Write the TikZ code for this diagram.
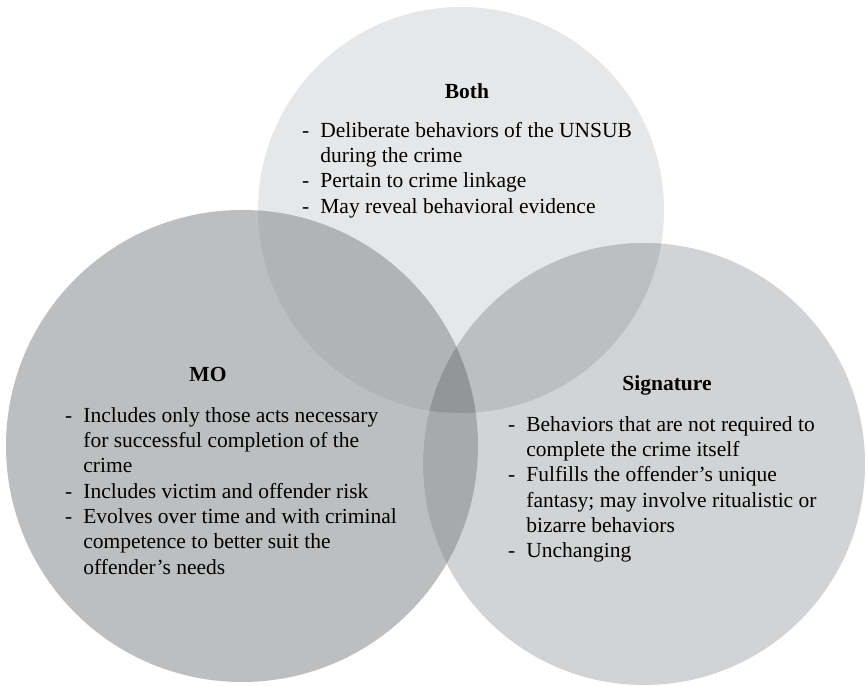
\documentclass[tikz,border=0pt]{standalone}
\usepackage{fontspec}
\setmainfont{Liberation Serif}
\usepackage{tikz}

\definecolor{bothgray}{HTML}{E6E7E8}
\definecolor{mogray}{HTML}{BCBEC0}
\definecolor{siggray}{HTML}{D1D3D4}
\definecolor{bothmo}{HTML}{B1B3B6}
\definecolor{bothsig}{HTML}{BCBEC0}
\definecolor{mosig}{HTML}{A7A9AC}
\definecolor{allthree}{HTML}{939598}

\begin{document}
\begin{tikzpicture}[x=1pt,y=1pt,font=\fontsize{21.5}{25.3}\selectfont]
    \tikzstyle{title node}=[anchor=base,inner sep=0,font=\fontsize{21.5}{25.3}\selectfont\bfseries]
    \tikzstyle{list node}=[anchor=north west,inner sep=0,align=left]

    \useasboundingbox (0,0) rectangle (866,685);

    \coordinate (both) at (461,475);
    \coordinate (mo) at (242,239);
    \coordinate (sig) at (644,221);

    % the three circles
    \fill[bothgray] (both) circle[radius=203pt];
    \fill[mogray] (mo) circle[radius=236pt];
    \fill[siggray] (sig) circle[radius=221pt];

    % overlaps
    \begin{scope}
        \clip (mo) circle[radius=236pt];
        \fill[bothmo] (both) circle[radius=203pt];
    \end{scope}
    \begin{scope}
        \clip (sig) circle[radius=221pt];
        \fill[bothsig] (both) circle[radius=203pt];
    \end{scope}
    \begin{scope}
        \clip (sig) circle[radius=221pt];
        \fill[mosig] (mo) circle[radius=236pt];
    \end{scope}
    \begin{scope}
        \clip (sig) circle[radius=221pt];
        \clip (mo) circle[radius=236pt];
        \fill[allthree] (both) circle[radius=203pt];
    \end{scope}

    % Both
    \node(bothtitle)[title node] at (467,586) {Both};
    \node(bothlist)[list node] at (302,565.7) {
        \begin{tabular}{@{}l@{\hspace{11pt}}l@{}}
            - & Deliberate behaviors of the UNSUB \\
              & during the crime \\
            - & Pertain to crime linkage \\
            - & May reveal behavioral evidence
        \end{tabular}
    };

    % MO
    \node(motitle)[title node] at (208,303) {MO};
    \node(molist)[list node] at (65,280.7) {
        \begin{tabular}{@{}l@{\hspace{11pt}}l@{}}
            - & Includes only those acts necessary \\
              & for successful completion of the \\
              & crime \\
            - & Includes victim and offender risk \\
            - & Evolves over time and with criminal \\
              & competence to better suit the \\
              & offender’s needs
        \end{tabular}
    };

    % Signature
    \node(sigtitle)[title node] at (667,294) {Signature};
    \node(siglist)[list node] at (508,271.7) {
        \begin{tabular}{@{}l@{\hspace{11pt}}l@{}}
            - & Behaviors that are not required to \\
              & complete the crime itself \\
            - & Fulfills the offender’s unique \\
              & fantasy; may involve ritualistic or \\
              & bizarre behaviors \\
            - & Unchanging
        \end{tabular}
    };
\end{tikzpicture}
\end{document}
